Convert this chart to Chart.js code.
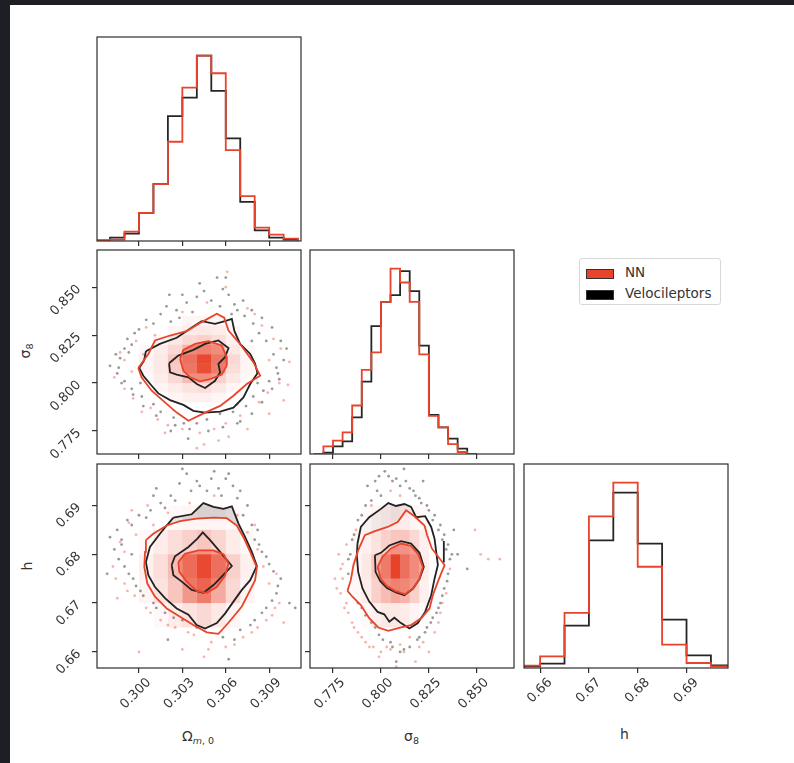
<!DOCTYPE html>
<html>
<head>
<meta charset="utf-8">
<script src="https://cdn.jsdelivr.net/npm/chart.js@4.4.1/dist/chart.umd.min.js"></script>
<style>
html, body { margin: 0; padding: 0; background: #1e1f24; width: 794px; height: 763px; overflow: hidden; }
#page { position: absolute; left: 10px; top: 5px; width: 784px; height: 758px; background: #fff; }
canvas { position: absolute; }
.axt { position: absolute; font-family: 'DejaVu Sans'; font-size: 14px; color: #333; white-space: nowrap; }
.axt sub { font-size: 9.5px; vertical-align: -3px; }
.legend { position: absolute; left: 579px; top: 258px; width: 140px; height: 45px; border: 1px solid #d8d8d8; border-radius: 3px; background: #fff; font-family: 'DejaVu Sans'; font-size: 13.5px; color: #333; }
.legend .row { position: absolute; left: 6px; height: 16px; }
.legend .sw { position: absolute; left: 0; top: 3px; width: 26px; height: 8px; border: 1px solid #333; }
.legend .tx { position: absolute; left: 39px; top: -2px; }
</style>
</head>
<body>
<div id="page"></div>

<div class="axt" style="left:182px; top:728px;">Ω<sub><i>m</i>, 0</sub></div>
<div class="axt" style="left:404px; top:728px;">σ<sub>8</sub></div>
<div class="axt" style="left:620px; top:726px;">h</div>
<div class="axt" style="left:19px; top:342px; transform:rotate(-90deg);">σ<sub>8</sub></div>
<div class="axt" style="left:23px; top:558px; transform:rotate(-90deg);">h</div>

<div class="legend">
  <div class="row" style="top:7px;"><div class="sw" style="background:#e8432b;"></div><div class="tx">NN</div></div>
  <div class="row" style="top:28px;"><div class="sw" style="background:#000;"></div><div class="tx">Velocileptors</div></div>
</div>

<script>
// axes
const omRange = [0.2971, 0.3112];
const s8Range = [0.7630, 0.8694];
const hRange = [0.6567, 0.6985];
const omTicks = [0.300, 0.303, 0.306, 0.309];
const s8Ticks = [0.775, 0.800, 0.825, 0.850];
const hTicks = [0.66, 0.67, 0.68, 0.69];
const omTickLabels = ['0.300', '0.303', '0.306', '0.309'];
const s8TickLabels = ['0.775', '0.800', '0.825', '0.850'];
const hTickLabels = ['0.66', '0.67', '0.68', '0.69'];

// 1D histograms (bin edges + heights)
const omEdges = [0.297, 0.298, 0.299, 0.300, 0.301, 0.302, 0.303, 0.304, 0.305, 0.306, 0.307, 0.308, 0.309, 0.310, 0.311];
const omNN  = [2, 4, 28, 84, 170, 297, 459, 555, 502, 272, 134, 40, 19, 7];
const omVel = [2, 10, 22, 84, 170, 374, 429, 555, 449, 307, 117, 32, 10, 4];

const s8Edges = [0.765, 0.770, 0.775, 0.780, 0.785, 0.790, 0.795, 0.800, 0.805, 0.810, 0.815, 0.820, 0.825, 0.830, 0.835, 0.840, 0.845, 0.850];
const s8NN  = [0, 23, 40, 65, 146, 253, 306, 458, 558, 516, 458, 300, 115, 80, 30, 6, 0];
const s8Vel = [0, 4, 23, 38, 110, 218, 385, 458, 478, 550, 490, 326, 118, 80, 46, 16, 0];

const hEdges = [0.655, 0.660, 0.665, 0.670, 0.675, 0.680, 0.685, 0.690, 0.695, 0.700];
const hNN  = [7, 35, 165, 454, 555, 303, 70, 15, 5];
const hVel = [5, 13, 127, 382, 525, 372, 145, 38, 8];

// 2D cell edges (y edges listed top to bottom)
const omCellEdges = [0.300, 0.301, 0.302, 0.303, 0.304, 0.305, 0.306, 0.307, 0.308];
const s8CellEdges = [0.785, 0.790, 0.795, 0.800, 0.805, 0.810, 0.815, 0.820, 0.825];
const s8RowEdges = [0.835, 0.830, 0.825, 0.820, 0.815, 0.810, 0.805, 0.800, 0.795, 0.790];
const hRowEdges = [0.690, 0.685, 0.680, 0.675, 0.670, 0.665];
const hTopRowEdges = [0.695, 0.690, 0.685];

// Omega_m vs sigma_8
const omS8NNCells = [
  [0, 0, 0, 0.05, 0.05, 0.05, 0, 0],
  [0, 0, 0.05, 0.10, 0.12, 0.10, 0.05, 0],
  [0, 0.05, 0.12, 0.20, 0.25, 0.18, 0.08, 0],
  [0.03, 0.10, 0.20, 0.40, 0.45, 0.35, 0.12, 0.03],
  [0.05, 0.12, 0.30, 0.60, 0.95, 0.55, 0.20, 0.05],
  [0.05, 0.12, 0.28, 0.55, 0.90, 0.50, 0.18, 0.05],
  [0.03, 0.10, 0.20, 0.35, 0.35, 0.25, 0.12, 0.03],
  [0, 0.05, 0.10, 0.15, 0.18, 0.12, 0.05, 0],
  [0, 0, 0.05, 0.08, 0.08, 0.05, 0, 0]
];
const omS8VelOuter = [[0.30048,0.8166],[0.30145,0.8204],[0.30261,0.8236],[0.30376,0.8295],[0.30434,0.8323],[0.30526,0.8309],[0.30595,0.8323],[0.30642,0.8335],[0.30660,0.8271],[0.30699,0.8204],[0.30769,0.8152],[0.30803,0.8100],[0.30819,0.8051],[0.30769,0.7995],[0.30722,0.7925],[0.30653,0.7872],[0.30561,0.7851],[0.30457,0.7846],[0.30376,0.7855],[0.30307,0.7886],[0.30215,0.7911],[0.30134,0.7946],[0.30088,0.7986],[0.30030,0.8038],[0.30002,0.8079],[0.30035,0.8117]];
const omS8NNOuter = [[0.29995,0.8079],[0.30065,0.8152],[0.30111,0.8222],[0.30215,0.8248],[0.30330,0.8271],[0.30434,0.8318],[0.30538,0.8362],[0.30589,0.8341],[0.30619,0.8274],[0.30699,0.8204],[0.30792,0.8108],[0.30838,0.8038],[0.30745,0.7995],[0.30653,0.7934],[0.30561,0.7881],[0.30457,0.7846],[0.30342,0.7803],[0.30261,0.7846],[0.30168,0.7907],[0.30088,0.7960],[0.30018,0.8030]];
const omS8VelInner = [[0.30208,0.8103],[0.30272,0.8143],[0.30376,0.8173],[0.30457,0.8204],[0.30549,0.8222],[0.30619,0.8183],[0.30595,0.8135],[0.30549,0.8100],[0.30561,0.8056],[0.30526,0.8012],[0.30457,0.7974],[0.30400,0.7995],[0.30342,0.8030],[0.30261,0.8044],[0.30215,0.8056]];
const omS8NNInner = [[0.30284,0.8126],[0.30307,0.8173],[0.30388,0.8204],[0.30480,0.8218],[0.30572,0.8196],[0.30602,0.8143],[0.30607,0.8091],[0.30572,0.8044],[0.30492,0.8021],[0.30422,0.8009],[0.30353,0.8030],[0.30307,0.8065]];
const omS8VelPts = [[0.3042,0.852],[0.3054,0.855],[0.3060,0.855],[0.3021,0.846],[0.3050,0.843],[0.3066,0.841],[0.3068,0.838],[0.3056,0.840],[0.3037,0.837],[0.3028,0.834],[0.3010,0.831],[0.3000,0.828],[0.2992,0.823],[0.2987,0.813],[0.2993,0.816],[0.2995,0.820],[0.2985,0.805],[0.2988,0.800],[0.2995,0.797],[0.3002,0.793],[0.3010,0.789],[0.3015,0.785],[0.3024,0.782],[0.3031,0.779],[0.3040,0.779],[0.3047,0.781],[0.3056,0.784],[0.3065,0.785],[0.3074,0.788],[0.3079,0.793],[0.3086,0.796],[0.3090,0.801],[0.3095,0.808],[0.3093,0.815],[0.3088,0.822],[0.3083,0.826],[0.3079,0.831],[0.3073,0.835],[0.3026,0.838],[0.3022,0.832],[0.3017,0.823],[0.3001,0.800],[0.3022,0.775],[0.3034,0.771],[0.3102,0.818],[0.2980,0.809],[0.3097,0.802],[0.3062,0.846],[0.3033,0.842],[0.3070,0.780],
  [0.2990,0.818],[0.2984,0.815],[0.2997,0.826],[0.3005,0.833],[0.3015,0.836],[0.3045,0.848],[0.3040,0.845],[0.3058,0.849],[0.3064,0.836],[0.3078,0.838],[0.3085,0.834],[0.3092,0.829],[0.3098,0.822],[0.3100,0.812],[0.3096,0.805],[0.3092,0.797],[0.3085,0.790],[0.3078,0.784],[0.3068,0.779],[0.3058,0.777],[0.3048,0.775],[0.3035,0.776],[0.3025,0.778],[0.3012,0.783],[0.3003,0.788],[0.2996,0.794],[0.2990,0.801],[0.2986,0.808],[0.3019,0.840],[0.3030,0.846],[0.3072,0.843],[0.3008,0.801],[0.3012,0.795],[0.3082,0.800],[0.3078,0.822]];
const omS8NNPts = [[0.3061,0.858],[0.3047,0.842],[0.3005,0.829],[0.2990,0.812],[0.2983,0.803],[0.2990,0.797],[0.2996,0.792],[0.3008,0.787],[0.3013,0.781],[0.3020,0.778],[0.3030,0.776],[0.3042,0.774],[0.3052,0.776],[0.3060,0.779],[0.3070,0.783],[0.3083,0.790],[0.3089,0.795],[0.3097,0.800],[0.3104,0.811],[0.3093,0.823],[0.3085,0.830],[0.3075,0.839],[0.3011,0.825],[0.2998,0.822],[0.3036,0.785],[0.3062,0.772],[0.3016,0.796],[0.3003,0.815],[0.3090,0.812],[0.3045,0.768],[0.3103,0.799],[0.3028,0.790],
  [0.2987,0.816],[0.2995,0.806],[0.3002,0.785],[0.3018,0.774],[0.3055,0.770],[0.3075,0.776],[0.3090,0.784],[0.3100,0.791],[0.3098,0.818],[0.3080,0.836],[0.3060,0.850],[0.3030,0.837],[0.3040,0.766],[0.3024,0.786],[0.3068,0.789]];

// Omega_m vs h
const omHNNCells = [
  [0, 0, 0.03, 0.05, 0.05, 0.05, 0.03, 0],
  [0.03, 0.10, 0.18, 0.25, 0.30, 0.22, 0.10, 0.03],
  [0.08, 0.18, 0.35, 0.65, 0.95, 0.60, 0.25, 0.08],
  [0.06, 0.15, 0.30, 0.55, 0.70, 0.45, 0.20, 0.06],
  [0, 0.03, 0.10, 0.15, 0.20, 0.12, 0.05, 0]
];
const omHVelCells = [
  [0, 0, 0.04, 0.08, 0.10, 0.10, 0.08, 0],
  [0, 0, 0.08, 0.13, 0.15, 0.15, 0.13, 0.04]
];
const omHVelOuter = [[0.30238,0.6875],[0.30365,0.6882],[0.30445,0.6905],[0.30515,0.6897],[0.30584,0.6893],[0.30642,0.6898],[0.30688,0.6863],[0.30734,0.6835],[0.30780,0.6805],[0.30815,0.6776],[0.30769,0.6747],[0.30711,0.6727],[0.30653,0.6703],[0.30596,0.6679],[0.30538,0.6659],[0.30457,0.6648],[0.30399,0.6655],[0.30342,0.6676],[0.30261,0.6689],[0.30180,0.6710],[0.30111,0.6733],[0.30065,0.6757],[0.30048,0.6784],[0.30076,0.6815],[0.30145,0.6842],[0.30203,0.6863]];
const omHNNOuter = [[0.30048,0.6829],[0.30099,0.6842],[0.30192,0.6859],[0.30284,0.6868],[0.30399,0.6873],[0.30515,0.6875],[0.30607,0.6874],[0.30676,0.6859],[0.30722,0.6835],[0.30769,0.6805],[0.30815,0.6773],[0.30803,0.6747],[0.30757,0.6720],[0.30711,0.6693],[0.30653,0.6672],[0.30596,0.6652],[0.30549,0.6637],[0.30469,0.6640],[0.30376,0.6655],[0.30284,0.6672],[0.30192,0.6689],[0.30111,0.6713],[0.30058,0.6740],[0.30037,0.6774],[0.30042,0.6805]];
const omHVelInner = [[0.30226,0.6778],[0.30249,0.6796],[0.30342,0.6815],[0.30404,0.6832],[0.30441,0.6845],[0.30492,0.6829],[0.30561,0.6805],[0.30642,0.6776],[0.30572,0.6754],[0.30515,0.6737],[0.30445,0.6721],[0.30365,0.6727],[0.30296,0.6744],[0.30238,0.6757]];
const omHNNInner = [[0.30272,0.6784],[0.30318,0.6801],[0.30411,0.6808],[0.30515,0.6808],[0.30584,0.6800],[0.30619,0.6781],[0.30596,0.6757],[0.30538,0.6733],[0.30469,0.6721],[0.30399,0.6725],[0.30330,0.6744],[0.30279,0.6764]];
const omHVelPts = [[0.3033,0.6965],[0.3040,0.6950],[0.3052,0.6970],[0.3060,0.6955],[0.3065,0.6940],[0.3070,0.6930],[0.3047,0.6930],[0.3028,0.6945],[0.3022,0.6920],[0.3015,0.6905],[0.3008,0.6890],[0.3000,0.6880],[0.2992,0.6870],[0.2985,0.6850],[0.2980,0.6835],[0.2988,0.6820],[0.2995,0.6800],[0.2986,0.6790],[0.2993,0.6760],[0.2998,0.6735],[0.3003,0.6715],[0.3010,0.6700],[0.3018,0.6680],[0.3030,0.6665],[0.3040,0.6650],[0.3058,0.6630],[0.3070,0.6645],[0.3080,0.6665],[0.3088,0.6690],[0.3095,0.6720],[0.3098,0.6750],[0.3090,0.6780],[0.3085,0.6805],[0.3080,0.6830],[0.3078,0.6860],[0.3072,0.6880],[0.3057,0.6920],[0.3036,0.6930],[0.3104,0.6700],[0.3108,0.6690],[0.3062,0.6585],[0.3045,0.6990],[0.3012,0.6935],[0.2978,0.6760],[0.3020,0.6625],
  [0.3030,0.6975],[0.3050,0.6955],[0.3062,0.6965],[0.3042,0.6940],[0.3055,0.6935],[0.3068,0.6915],[0.3075,0.6900],[0.3025,0.6910],[0.3018,0.6895],[0.3005,0.6875],[0.2995,0.6860],[0.2988,0.6830],[0.2983,0.6810],[0.2990,0.6775],[0.2996,0.6750],[0.3001,0.6725],[0.3012,0.6690],[0.3024,0.6670],[0.3036,0.6660],[0.3050,0.6640],[0.3066,0.6625],[0.3077,0.6655],[0.3085,0.6680],[0.3092,0.6705],[0.3096,0.6735],[0.3093,0.6765],[0.3088,0.6795],[0.3083,0.6820],[0.3082,0.6850],[0.3010,0.6920]];
const omHNNPts = [[0.3010,0.6860],[0.2998,0.6840],[0.2990,0.6805],[0.2982,0.6775],[0.2990,0.6740],[0.2997,0.6715],[0.3005,0.6690],[0.3015,0.6665],[0.3025,0.6650],[0.3038,0.6635],[0.3050,0.6620],[0.3060,0.6610],[0.3072,0.6630],[0.3082,0.6650],[0.3092,0.6675],[0.3097,0.6700],[0.3090,0.6740],[0.3086,0.6775],[0.3082,0.6810],[0.3075,0.6845],[0.3068,0.6880],[0.3035,0.6905],[0.3020,0.6885],[0.2995,0.6890],[0.3000,0.6600],[0.3045,0.6590],[0.3052,0.6920],[0.3100,0.6660],[0.2985,0.6710],[0.3030,0.6605],
  [0.2993,0.6865],[0.2987,0.6825],[0.2984,0.6750],[0.2992,0.6725],[0.3008,0.6680],[0.3020,0.6655],[0.3034,0.6640],[0.3048,0.6605],[0.3066,0.6615],[0.3078,0.6640],[0.3088,0.6665],[0.3094,0.6690],[0.3095,0.6760],[0.3080,0.6860],[0.3006,0.6900]];

// sigma_8 vs h
const s8HNNCells = [
  [0, 0.02, 0.05, 0.08, 0.12, 0.10, 0.05, 0.02],
  [0.03, 0.08, 0.15, 0.25, 0.30, 0.30, 0.20, 0.08],
  [0.05, 0.12, 0.30, 0.50, 1.00, 0.60, 0.35, 0.10],
  [0.04, 0.10, 0.25, 0.35, 0.45, 0.40, 0.25, 0.08],
  [0, 0.04, 0.08, 0.12, 0.12, 0.10, 0.06, 0.02]
];
const s8HVelCells = [
  [0, 0, 0.02, 0.04, 0.05, 0.04, 0.02, 0],
  [0, 0.03, 0.05, 0.06, 0.06, 0.05, 0.04, 0]
];
const s8HVelOuter = [[0.78777,0.6822],[0.78952,0.6856],[0.79389,0.6876],[0.80000,0.6893],[0.80384,0.6905],[0.80786,0.6899],[0.81223,0.6903],[0.81572,0.6897],[0.81834,0.6876],[0.82306,0.6878],[0.82621,0.6856],[0.82796,0.6832],[0.82883,0.6805],[0.82970,0.6778],[0.82796,0.6750],[0.82621,0.6716],[0.82306,0.6682],[0.81922,0.6659],[0.81485,0.6648],[0.81048,0.6659],[0.80699,0.6670],[0.80437,0.6662],[0.80175,0.6677],[0.79825,0.6682],[0.79389,0.6703],[0.79039,0.6730],[0.78812,0.6764],[0.78742,0.6798]];
const s8HVelFrag = [[0.8328,0.6827],[0.8328,0.6783]];
const s8HNNOuter = [[0.78253,0.6725],[0.78428,0.6747],[0.78567,0.6778],[0.78812,0.6808],[0.79161,0.6839],[0.79650,0.6847],[0.80349,0.6856],[0.80874,0.6866],[0.81310,0.6890],[0.81747,0.6878],[0.82271,0.6859],[0.82411,0.6839],[0.82655,0.6812],[0.83319,0.6778],[0.82970,0.6744],[0.82708,0.6716],[0.82533,0.6689],[0.82096,0.6669],[0.81572,0.6655],[0.81048,0.6650],[0.80384,0.6643],[0.79860,0.6650],[0.79389,0.6669],[0.78952,0.6696],[0.78515,0.6713]];
const s8HVelInner = [[0.79686,0.6798],[0.80000,0.6803],[0.80437,0.6818],[0.81048,0.6827],[0.81572,0.6822],[0.82009,0.6803],[0.82236,0.6774],[0.82009,0.6749],[0.81660,0.6729],[0.81223,0.6716],[0.80786,0.6722],[0.80314,0.6731],[0.79965,0.6745],[0.79720,0.6764]];
const s8HNNInner = [[0.79825,0.6774],[0.80087,0.6795],[0.80524,0.6812],[0.81048,0.6822],[0.81572,0.6817],[0.81957,0.6799],[0.82184,0.6774],[0.82009,0.6750],[0.81712,0.6731],[0.81258,0.6718],[0.80734,0.6725],[0.80314,0.6735],[0.80000,0.6749]];
const s8HVelPts = [[0.7990,0.6960],[0.8020,0.6970],[0.8060,0.6950],[0.8100,0.6940],[0.8150,0.6935],[0.8180,0.6920],[0.8210,0.6905],[0.8250,0.6890],[0.8270,0.6870],[0.8300,0.6850],[0.8320,0.6830],[0.8340,0.6810],[0.8360,0.6790],[0.8350,0.6760],[0.8330,0.6730],[0.8310,0.6700],[0.8290,0.6680],[0.8260,0.6660],[0.8230,0.6640],[0.8190,0.6625],[0.8150,0.6610],[0.8100,0.6600],[0.8050,0.6620],[0.7990,0.6635],[0.7950,0.6660],[0.7900,0.6690],[0.7860,0.6720],[0.7830,0.6760],[0.7840,0.6800],[0.7860,0.6840],[0.7900,0.6880],[0.7950,0.6910],[0.8000,0.6920],[0.8120,0.6975],[0.8400,0.6800],[0.8450,0.6770],[0.8380,0.6850],[0.8080,0.6580],[0.7930,0.6940],[0.8220,0.6950],
  [0.7970,0.6950],[0.8040,0.6960],[0.8080,0.6955],[0.8130,0.6950],[0.8170,0.6930],[0.8200,0.6915],[0.8240,0.6900],[0.8280,0.6880],[0.8310,0.6860],[0.8330,0.6840],[0.8350,0.6820],[0.8370,0.6800],[0.8345,0.6745],[0.8320,0.6715],[0.8300,0.6690],[0.8270,0.6670],[0.8240,0.6650],[0.8200,0.6630],[0.8120,0.6605],[0.8060,0.6610],[0.8010,0.6625],[0.7970,0.6650],[0.7920,0.6675],[0.7880,0.6700],[0.7850,0.6740],[0.7830,0.6790],[0.7850,0.6830],[0.7880,0.6870],[0.7920,0.6900],[0.7980,0.6930]];
const s8HNNPts = [[0.7760,0.6750],[0.7790,0.6720],[0.7800,0.6780],[0.7820,0.6700],[0.7780,0.6800],[0.7850,0.6660],[0.7880,0.6640],[0.7920,0.6620],[0.7960,0.6610],[0.8000,0.6600],[0.8050,0.6605],[0.8100,0.6615],[0.8150,0.6630],[0.8200,0.6610],[0.8250,0.6600],[0.8280,0.6640],[0.8310,0.6680],[0.8340,0.6720],[0.8360,0.6770],[0.8490,0.6850],[0.8560,0.6790],[0.8620,0.6790],[0.8150,0.6870],[0.8100,0.6920],[0.8050,0.6930],[0.7950,0.6900],[0.7870,0.6850],[0.7820,0.6820],[0.8080,0.6570],[0.8180,0.6580],
  [0.7770,0.6730],[0.7800,0.6750],[0.7810,0.6690],[0.7830,0.6680],[0.7790,0.6770],[0.7860,0.6650],[0.7900,0.6630],[0.7940,0.6610],[0.7990,0.6590],[0.8030,0.6610],[0.8120,0.6600],[0.8220,0.6620],[0.8300,0.6660],[0.8320,0.6700],[0.8520,0.6800]];

const RED = '#e8432b';
const RED_RGB = '232,67,43';
const DARK = '#2e2e2e';

const PANEL = 204, PAD_L = 70, PAD_B = 70, PAD_T = 6, PAD_R = 6;
const colLeft = [97, 310, 524];
const rowTop = [37, 250, 464];

Chart.defaults.font.family = 'DejaVu Sans';
Chart.defaults.font.size = 13;
Chart.defaults.color = '#333';

// thin box around each panel
const framePlugin = {
    id: 'frame',
    afterDraw(chart) {
        const { ctx, chartArea: a } = chart;
        ctx.save();
        ctx.strokeStyle = DARK;
        ctx.lineWidth = 1.2;
        ctx.strokeRect(a.left, a.top, a.width, a.height);
        ctx.restore();
    }
};

// 2D histogram cells, drawn where their dataset sits in the stack
const cellPlugin = {
    id: 'cells',
    afterDatasetDraw(chart, args) {
        const ds = chart.data.datasets[args.index];
        if (!ds.cells) return;
        const { ctx, chartArea: a } = chart;
        const xs = chart.scales.x, ys = chart.scales.y;
        const c = ds.cells;
        ctx.save();
        ctx.beginPath();
        ctx.rect(a.left, a.top, a.width, a.height);
        ctx.clip();
        if (c.inside) {
            ctx.beginPath();
            c.inside.forEach((p, i) => {
                const px = xs.getPixelForValue(p[0]), py = ys.getPixelForValue(p[1]);
                if (i) ctx.lineTo(px, py); else ctx.moveTo(px, py);
            });
            ctx.closePath();
            ctx.clip();
        }
        c.vals.forEach((row, j) => {
            row.forEach((v, i) => {
                if (!v) return;
                const x0 = xs.getPixelForValue(c.xe[i]), x1 = xs.getPixelForValue(c.xe[i + 1]);
                const y0 = ys.getPixelForValue(c.ye[j]), y1 = ys.getPixelForValue(c.ye[j + 1]);
                ctx.fillStyle = 'rgba(' + c.rgb + ',' + v + ')';
                ctx.fillRect(x0, y0, x1 - x0, y1 - y0);
            });
        });
        ctx.restore();
    }
};

function mkCanvas(col, row) {
    const c = document.createElement('canvas');
    c.width = PAD_L + PANEL + PAD_R;
    c.height = PAD_T + PANEL + PAD_B;
    c.style.left = (colLeft[col] - PAD_L) + 'px';
    c.style.top = (rowTop[row] - PAD_T) + 'px';
    document.body.appendChild(c);
    return c;
}

function fixBox(s, isX) {
    if (isX) s.height = PAD_B; else s.width = PAD_L;
    s.paddingTop = 0; s.paddingBottom = 0; s.paddingLeft = 0; s.paddingRight = 0;
}

// mode: 'labels' | 'marks' | 'none'
function axisOpts(range, ticks, labels, mode, isX) {
    return {
        type: 'linear',
        position: isX ? 'bottom' : 'left',
        min: range[0], max: range[1],
        afterBuildTicks: s => { s.ticks = ticks.map(v => ({ value: v })); },
        afterFit: s => fixBox(s, isX),
        grid: { display: mode !== 'none', drawOnChartArea: false, drawTicks: true, tickLength: 5, color: DARK, lineWidth: 1.2 },
        border: { display: false },
        ticks: {
            display: mode === 'labels',
            minRotation: 45, maxRotation: 45,
            padding: isX ? 2 : 13,
            labelOffset: isX ? 10 : 0,
            color: '#333',
            callback: (v, i) => labels[i]
        }
    };
}

function countAxis(a, b) {
    return {
        type: 'linear', min: 0, max: 1.1 * Math.max(...a, ...b),
        afterFit: s => fixBox(s, false),
        grid: { display: false }, border: { display: false }, ticks: { display: false }
    };
}

function baseOptions(xAxis, yAxis) {
    return {
        responsive: false,
        animation: false,
        events: [],
        layout: { padding: { top: PAD_T, right: PAD_R, left: 0, bottom: 0 } },
        plugins: { legend: { display: false }, tooltip: { enabled: false } },
        scales: { x: xAxis, y: yAxis }
    };
}

function stepData(edges, counts) {
    const d = [{ x: edges[0], y: 0 }];
    counts.forEach((c, i) => d.push({ x: edges[i], y: c }));
    d.push({ x: edges[edges.length - 1], y: counts[counts.length - 1] });
    d.push({ x: edges[edges.length - 1], y: 0 });
    return d;
}

function histPanel(col, row, edges, nn, vel, range, ticks, labels, xMode) {
    new Chart(mkCanvas(col, row), {
        type: 'scatter',
        data: {
            datasets: [
                { type: 'line', data: stepData(edges, nn), stepped: 'before', borderColor: RED, borderWidth: 1.8, pointRadius: 0, fill: false, order: 1 },
                { type: 'line', data: stepData(edges, vel), stepped: 'before', borderColor: '#262626', borderWidth: 1.8, pointRadius: 0, fill: false, order: 2 }
            ]
        },
        options: baseOptions(axisOpts(range, ticks, labels, xMode, true), countAxis(nn, vel)),
        plugins: [framePlugin]
    });
}

const pts = arr => arr.map(p => ({ x: p[0], y: p[1] }));
const ring = arr => { const a = pts(arr); a.push(a[0]); return a; };

function shapeFill(arr, color, order) {
    return { type: 'line', data: ring(arr), borderColor: 'rgba(0,0,0,0)', borderWidth: 0, pointRadius: 0, fill: 'shape', backgroundColor: color, tension: 0, order: order };
}
function contour(arr, color, order, open) {
    return { type: 'line', data: open ? pts(arr) : ring(arr), borderColor: color, borderWidth: 1.8, pointRadius: 0, fill: false, tension: 0, order: order };
}
function dots(arr, color, order) {
    return { type: 'scatter', data: pts(arr), pointRadius: 1.4, pointBorderWidth: 0, pointBackgroundColor: color, order: order };
}

function pairPanel(col, row, p, xAxis, yAxis) {
    const ds = [
        dots(p.velPts, 'rgba(0,0,0,0.4)', 20),
        dots(p.nnPts, 'rgba(' + RED_RGB + ',0.4)', 19),
        shapeFill(p.velOuter, '#ffffff', 18),
        shapeFill(p.nnOuter, '#ffffff', 16),
        { type: 'scatter', data: [], cells: { xe: p.xe, ye: p.ye, vals: p.nnCells, rgb: RED_RGB }, order: 15 },
        shapeFill(p.nnInner, 'rgba(' + RED_RGB + ',0.4)', 14),
        contour(p.velOuter, '#222', 4),
        contour(p.velInner, '#222', 3),
        contour(p.nnOuter, RED, 2),
        contour(p.nnInner, RED, 1)
    ];
    if (p.velCells) ds.push({ type: 'scatter', data: [], cells: { xe: p.xe, ye: p.velYe, vals: p.velCells, rgb: '0,0,0', inside: p.velOuter }, order: 17 });
    if (p.velFrag) ds.push(contour(p.velFrag, '#222', 4, true));
    new Chart(mkCanvas(col, row), {
        type: 'scatter',
        data: { datasets: ds },
        options: baseOptions(xAxis, yAxis),
        plugins: [cellPlugin, framePlugin]
    });
}

// diagonal
histPanel(0, 0, omEdges, omNN, omVel, omRange, omTicks, omTickLabels, 'marks');
histPanel(1, 1, s8Edges, s8NN, s8Vel, s8Range, s8Ticks, s8TickLabels, 'marks');
histPanel(2, 2, hEdges, hNN, hVel, hRange, hTicks, hTickLabels, 'labels');

// Omega_m - sigma_8
pairPanel(0, 1, {
    velPts: omS8VelPts, nnPts: omS8NNPts,
    velOuter: omS8VelOuter, velInner: omS8VelInner, nnOuter: omS8NNOuter, nnInner: omS8NNInner,
    xe: omCellEdges, ye: s8RowEdges, nnCells: omS8NNCells
}, axisOpts(omRange, omTicks, omTickLabels, 'marks', true), axisOpts(s8Range, s8Ticks, s8TickLabels, 'labels', false));

// Omega_m - h
pairPanel(0, 2, {
    velPts: omHVelPts, nnPts: omHNNPts,
    velOuter: omHVelOuter, velInner: omHVelInner, nnOuter: omHNNOuter, nnInner: omHNNInner,
    xe: omCellEdges, ye: hRowEdges, nnCells: omHNNCells, velYe: hTopRowEdges, velCells: omHVelCells
}, axisOpts(omRange, omTicks, omTickLabels, 'labels', true), axisOpts(hRange, hTicks, hTickLabels, 'labels', false));

// sigma_8 - h
pairPanel(1, 2, {
    velPts: s8HVelPts, nnPts: s8HNNPts,
    velOuter: s8HVelOuter, velInner: s8HVelInner, nnOuter: s8HNNOuter, nnInner: s8HNNInner,
    xe: s8CellEdges, ye: hRowEdges, nnCells: s8HNNCells, velYe: hTopRowEdges, velCells: s8HVelCells,
    velFrag: s8HVelFrag
}, axisOpts(s8Range, s8Ticks, s8TickLabels, 'labels', true), axisOpts(hRange, hTicks, hTickLabels, 'marks', false));
</script>
</body>
</html>
